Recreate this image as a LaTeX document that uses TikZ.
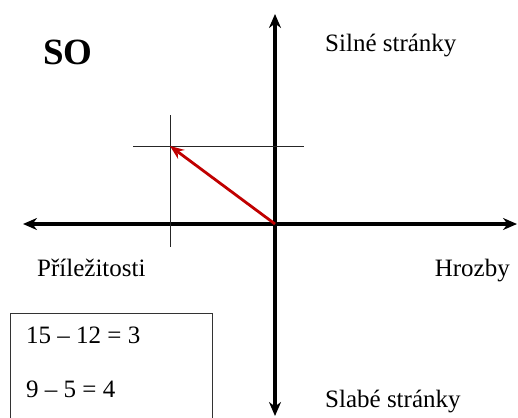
\documentclass[tikz,border=0pt]{standalone}
\usepackage{fontspec}
\setmainfont{Liberation Serif}
\usetikzlibrary{arrows.meta}
\usetikzlibrary{positioning}
\definecolor{vectorred}{RGB}{192,0,0}

\begin{document}
\begin{tikzpicture}[x=1pt, y=-1pt,
    axis/.style={{Stealth[length=14pt,width=12pt]}-{Stealth[length=14pt,width=12pt]}, line width=4pt},
    guide/.style={line width=1pt, black!85},
    vector/.style={-{Stealth[length=14pt,width=11pt]}, vectorred, line width=2.8pt},
    lbl/.style={inner sep=0pt, font=\fontsize{25}{30}\selectfont}]
        \useasboundingbox (0,0) rectangle (518,417);
        \clip (0,0) rectangle (518,417);
        % axes
        \coordinate (o) at (275,224);
        \coordinate (xl) at (23,224);
        \coordinate (xr) at (517,224);
        \coordinate (yt) at (275,14);
        \coordinate (yb) at (275,416);
        \draw [axis] (xl) -- (xr);
        \draw [axis] (yt) -- (yb);
        % guide cross
        \coordinate (gl) at (133,146);
        \coordinate (gr) at (304,146);
        \coordinate (gt) at (170,115);
        \coordinate (gb) at (170,247);
        \coordinate (p) at (170,146);
        \draw [guide] (gl) -- (gr);
        \draw [guide] (gt) -- (gb);
        \draw [vector] (o) -- (p);
        % labels
        \node [anchor=base west, inner sep=0pt, font=\fontsize{37}{40}\selectfont\bfseries] (so) at (43,65) {SO};
        \node [lbl, anchor=base west] (silne) at (325,52) {Silné stránky};
        \node [lbl, anchor=base west] (prilez) at (37,276) {Příležitosti};
        \node [lbl, anchor=base east] (hrozby) at (510,276) {Hrozby};
        \node [lbl, anchor=base west] (slabe) at (325,407) {Slabé stránky};
        % box with results
        \node [draw, line width=1pt, black!80, anchor=north west, minimum width=202pt, minimum height=130pt] (box) at (10,313) {};
        \node [lbl, anchor=base west] (eqa) at (26,343) {15 – 12 = 3};
        \node [lbl, anchor=base west] (eqb) at (26,397) {9 – 5 = 4};
\end{tikzpicture}
\end{document}
